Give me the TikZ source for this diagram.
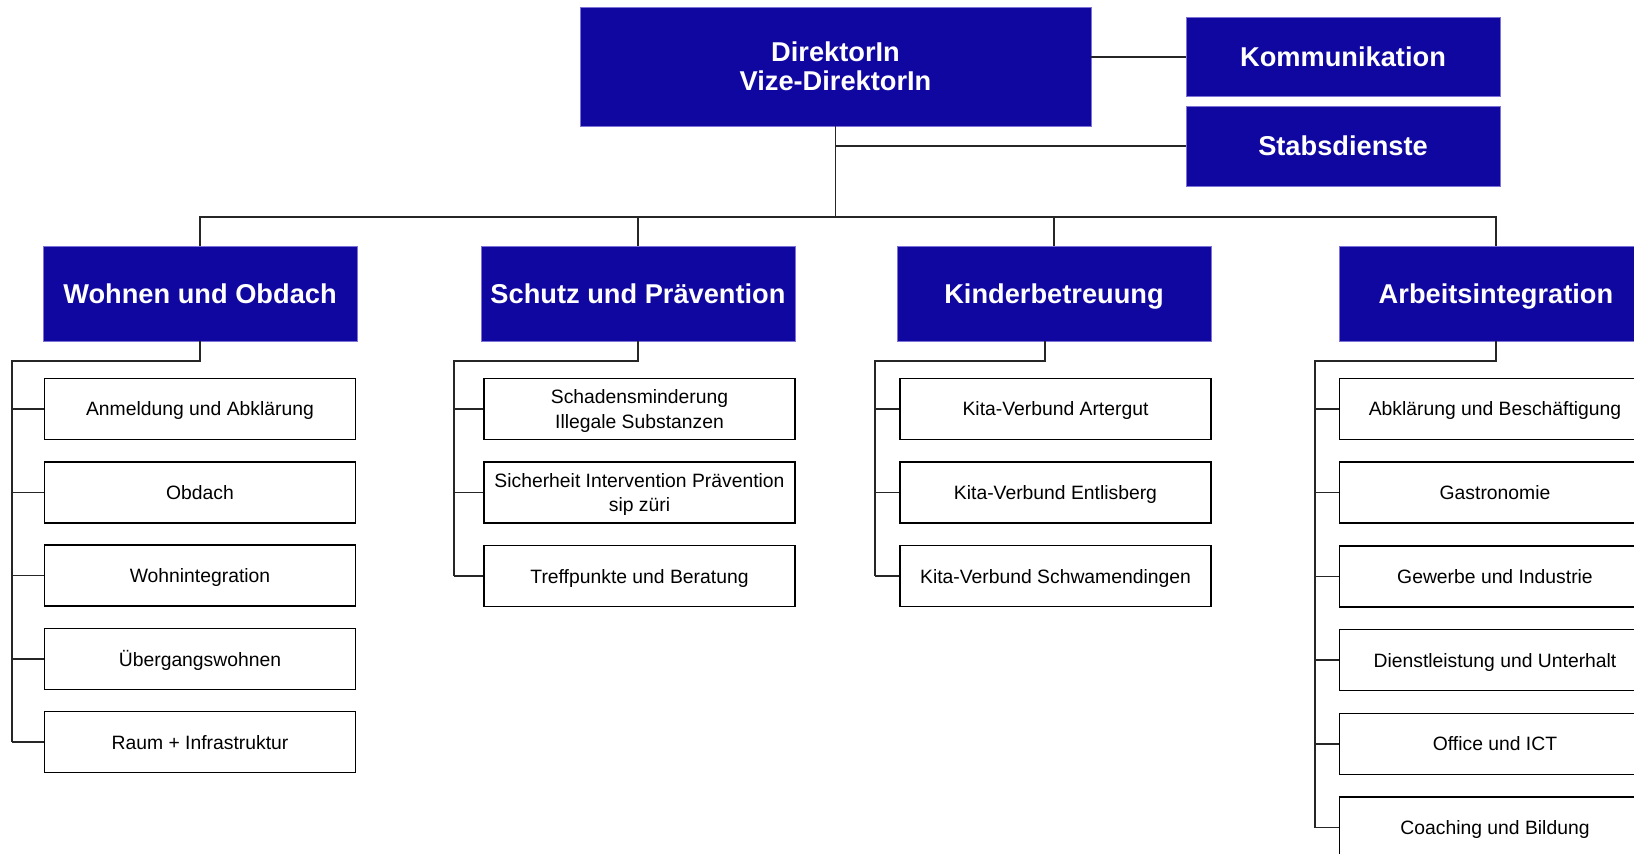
\documentclass[tikz,border=0pt]{standalone}
\usepackage{fontspec}
\setmainfont{Liberation Sans}
\usepackage{tikz}
\usetikzlibrary{positioning}
\definecolor{orgblue}{RGB}{16,6,160}
\definecolor{orgedge}{RGB}{125,115,215}

\begin{document}
\begin{tikzpicture}[x=0.02cm, y=-0.02cm,
    headbox/.style={draw=orgedge, line width=0.4pt, fill=orgblue, text=white,
        font=\fontsize{15.5}{16.5}\selectfont\bfseries, align=center, inner sep=0pt},
    unitbox/.style={draw=black, line width=0.85pt, fill=white, minimum width=6.22cm,
        minimum height=1.22cm, font=\fontsize{11}{13.8}\selectfont, align=center,
        inner sep=0pt, text depth=0pt},
    link/.style={draw=black!85, line width=0.85pt}]
    \useasboundingbox (0,0) rectangle (1634,854);

    % Direction and staff
    \node[headbox, minimum width=10.22cm, minimum height=2.38cm] (dir) at (835.5,66.5) {DirektorIn\\Vize-DirektorIn};
    \node[headbox, minimum width=6.28cm, minimum height=1.58cm] (komm) at (1343,57) {Kommunikation};
    \node[headbox, minimum width=6.28cm, minimum height=1.6cm] (stabs) at (1343,146) {Stabsdienste};

    % Departments
    \foreach \name/\x/\txt in {wohnen/200/Wohnen und Obdach, schutz/638/Schutz und Prävention,
                               kinder/1054/Kinderbetreuung, arbeit/1496/Arbeitsintegration}
        \node[headbox, minimum width=6.28cm, minimum height=1.9cm, text height=11.2pt, text depth=0pt]
            (\name) at (\x,293.5) {\txt};

    % Units
    \foreach \i/\txt in {1/Anmeldung und Abklärung, 2/Obdach, 3/Wohnintegration,
                         4/Übergangswohnen, 5/Raum + Infrastruktur}
        \node[unitbox] (wo\i) at (200,{409+83.3*(\i-1)}) {\txt};
    \foreach \i/\txt in {1/{Schadensminderung\\Illegale Substanzen},
                         2/{Sicherheit Intervention Prävention\\sip züri}, 3/Treffpunkte und Beratung}
        \node[unitbox] (sc\i) at (639.5,{409+83.5*(\i-1)}) {\txt};
    \foreach \i/\txt in {1/Kita-Verbund Artergut, 2/Kita-Verbund Entlisberg, 3/Kita-Verbund Schwamendingen}
        \node[unitbox] (ki\i) at (1055.5,{409+83.5*(\i-1)}) {\txt};
    \foreach \i/\txt in {1/Abklärung und Beschäftigung, 2/Gastronomie, 3/Gewerbe und Industrie,
                         4/Dienstleistung und Unterhalt, 5/Office und ICT, 6/Coaching und Bildung}
        \node[unitbox] (ar\i) at (1495,{409+83.7*(\i-1)}) {\txt};

    % Connectors at the top
    \coordinate (topbus) at (835.5,217);
    \draw[link] (dir.south) -- (topbus);
    \draw[link] (wohnen.north) |- (topbus) -| (arbeit.north);
    \draw[link] (schutz.north) -- (schutz.north |- topbus);
    \draw[link] (kinder.north) -- (kinder.north |- topbus);
    \draw[link] (komm.west) -- (komm.west -| dir.east);
    \draw[link] (stabs.west) -- (stabs.west -| dir.south);

    % Connectors to the units
    \foreach \grp/\sub/\bx/\n/\dx in {wohnen/wo/12/5/0, schutz/sc/454/3/0, kinder/ki/875/3/-9, arbeit/ar/1315/6/0} {
        \coordinate (\sub bus) at (\bx,361);
        \draw[link] ([xshift=\dx*0.02cm]\grp.south) |- (\sub bus) -- (\sub bus |- \sub\n.west);
        \foreach \i in {1,...,\n}
            \draw[link] (\sub bus |- \sub\i.west) -- (\sub\i.west);
    }
\end{tikzpicture}
\end{document}
